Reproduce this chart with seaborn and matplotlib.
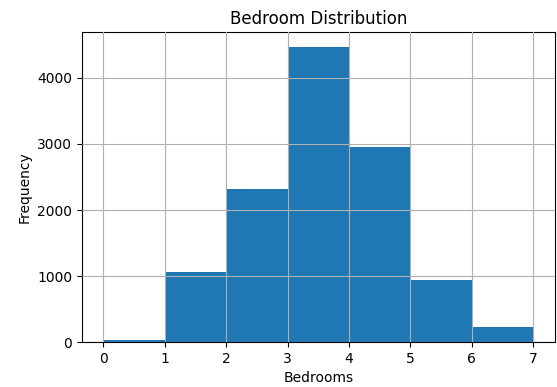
import matplotlib
matplotlib.use("Agg")
import matplotlib.pyplot as plt
import seaborn as sns
import numpy as np

bin_edges = [0, 1, 2, 3, 4, 5, 6, 7]
bin_left = [0, 1, 2, 3, 4, 5, 6]
counts = [25, 1060, 2315, 4470, 2960, 933, 233]

fig = plt.figure(figsize=(5.57, 3.87), dpi=100)
ax = fig.add_axes([0.147, 0.116, 0.849, 0.801])
sns.histplot(x=[b + 0.5 for b in bin_left], weights=counts, bins=bin_edges,
             color="#1f77b4", alpha=1, edgecolor="#1f77b4", linewidth=0.0, ax=ax)
ax.set_axisbelow(False)
ax.grid(True, color="#b0b0b0", linewidth=0.8)
ax.set_xticks(bin_edges)
ax.set_yticks([0, 1000, 2000, 3000, 4000])
ax.set_xlim(-0.35, 7.35)
ax.set_ylim(0, 4470 * 1.05)
ax.set_title("Bedroom Distribution", fontsize=12)
ax.set_xlabel("Bedrooms")
ax.set_ylabel("Frequency")
fig.savefig("out.png", dpi=100)
